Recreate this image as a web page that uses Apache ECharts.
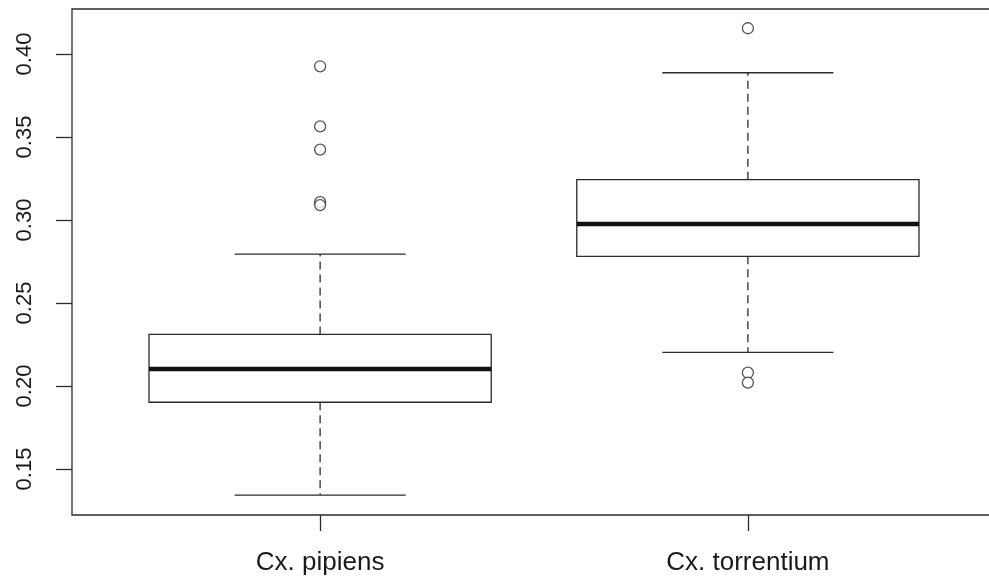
<!DOCTYPE html>
<html>
<head>
<meta charset="utf-8">
<script src="https://cdn.jsdelivr.net/npm/echarts@6/dist/echarts.min.js"></script>
<style>html,body{margin:0;padding:0;background:#fff;}#c{width:989px;height:581px;}</style>
</head>
<body>
<div id="c"></div>
<script>
const categories = ['Cx. pipiens', 'Cx. torrentium'];
const whiskerLow = [0.1343, 0.2203];
const q1 = [0.1902, 0.2781];
const median = [0.2102, 0.2976];
const q3 = [0.2311, 0.3243];
const whiskerHigh = [0.2795, 0.3887];
const outliersPipiens = [0.3926, 0.3564, 0.3424, 0.3108, 0.3090];
const outliersTorrentium = [0.4155, 0.2080, 0.2020];
const yTicks = [0.15, 0.20, 0.25, 0.30, 0.35, 0.40];

const boxData = categories.map((c, i) => [i + 1, whiskerLow[i], q1[i], median[i], q3[i], whiskerHigh[i]]);
const outlierData = []
  .concat(outliersPipiens.map(v => [1, v]))
  .concat(outliersTorrentium.map(v => [2, v]));

const LINE = '#2b2b2b';
const chart = echarts.init(document.getElementById('c'), null, {renderer: 'canvas'});
chart.setOption({
  animation: false,
  backgroundColor: '#fff',
  grid: {left: 72, top: 9, width: 924, height: 506, containLabel: false, outerBoundsMode: 'none',
    show: true, borderColor: LINE, borderWidth: 1.3, backgroundColor: 'transparent'},
  xAxis: {
    type: 'value', min: 0.42, max: 2.58,
    splitLine: {show: false},
    axisLine: {show: false},
    axisTick: {show: true, length: 16, inside: false, customValues: [1, 2], lineStyle: {color: LINE, width: 1.3}},
    axisLabel: {customValues: [1, 2], margin: 35, color: '#1a1a1a', fontSize: 26, fontFamily: 'Liberation Sans, Arial',
      formatter: v => categories[Math.round(v) - 1] || ''}
  },
  yAxis: {
    type: 'value', min: 0.12229, max: 0.42711,
    splitLine: {show: false},
    axisLine: {show: false},
    axisTick: {show: true, length: 16, customValues: yTicks, lineStyle: {color: LINE, width: 1.3}},
    axisLabel: {customValues: yTicks, rotate: 90, margin: 36, color: '#1a1a1a', fontSize: 22, fontFamily: 'Liberation Sans, Arial',
      formatter: v => v.toFixed(2)}
  },
  series: [
    {
      type: 'custom',
      data: boxData,
      encode: {x: 0, y: [1, 2, 3, 4, 5]},
      renderItem: function (params, api) {
        const x = api.value(0);
        const pLow = api.coord([x, api.value(1)]);
        const pQ1 = api.coord([x, api.value(2)]);
        const pMed = api.coord([x, api.value(3)]);
        const pQ3 = api.coord([x, api.value(4)]);
        const pHigh = api.coord([x, api.value(5)]);
        const left = api.coord([x - 0.4, 0])[0];
        const right = api.coord([x + 0.4, 0])[0];
        const capL = api.coord([x - 0.2, 0])[0];
        const capR = api.coord([x + 0.2, 0])[0];
        const cx = pMed[0];
        const dashStyle = {stroke: LINE, lineWidth: 1.3, lineDash: [8, 5]};
        const solid = {stroke: LINE, lineWidth: 1.3};
        return {
          type: 'group',
          children: [
            {type: 'line', shape: {x1: cx, y1: pQ3[1], x2: cx, y2: pHigh[1]}, style: dashStyle},
            {type: 'line', shape: {x1: cx, y1: pQ1[1], x2: cx, y2: pLow[1]}, style: dashStyle},
            {type: 'line', shape: {x1: capL, y1: pHigh[1], x2: capR, y2: pHigh[1]}, style: solid},
            {type: 'line', shape: {x1: capL, y1: pLow[1], x2: capR, y2: pLow[1]}, style: solid},
            {type: 'rect', shape: {x: left, y: pQ3[1], width: right - left, height: pQ1[1] - pQ3[1]}, style: {fill: '#fff', stroke: LINE, lineWidth: 1.3}},
            {type: 'line', shape: {x1: left, y1: pMed[1], x2: right, y2: pMed[1]}, style: {stroke: '#111', lineWidth: 4.5}}
          ]
        };
      }
    },
    {
      type: 'scatter',
      data: outlierData,
      symbol: 'circle',
      symbolSize: 11,
      itemStyle: {color: '#fff', borderColor: LINE, borderWidth: 1.3}
    }
  ]
});
</script>
</body>
</html>
